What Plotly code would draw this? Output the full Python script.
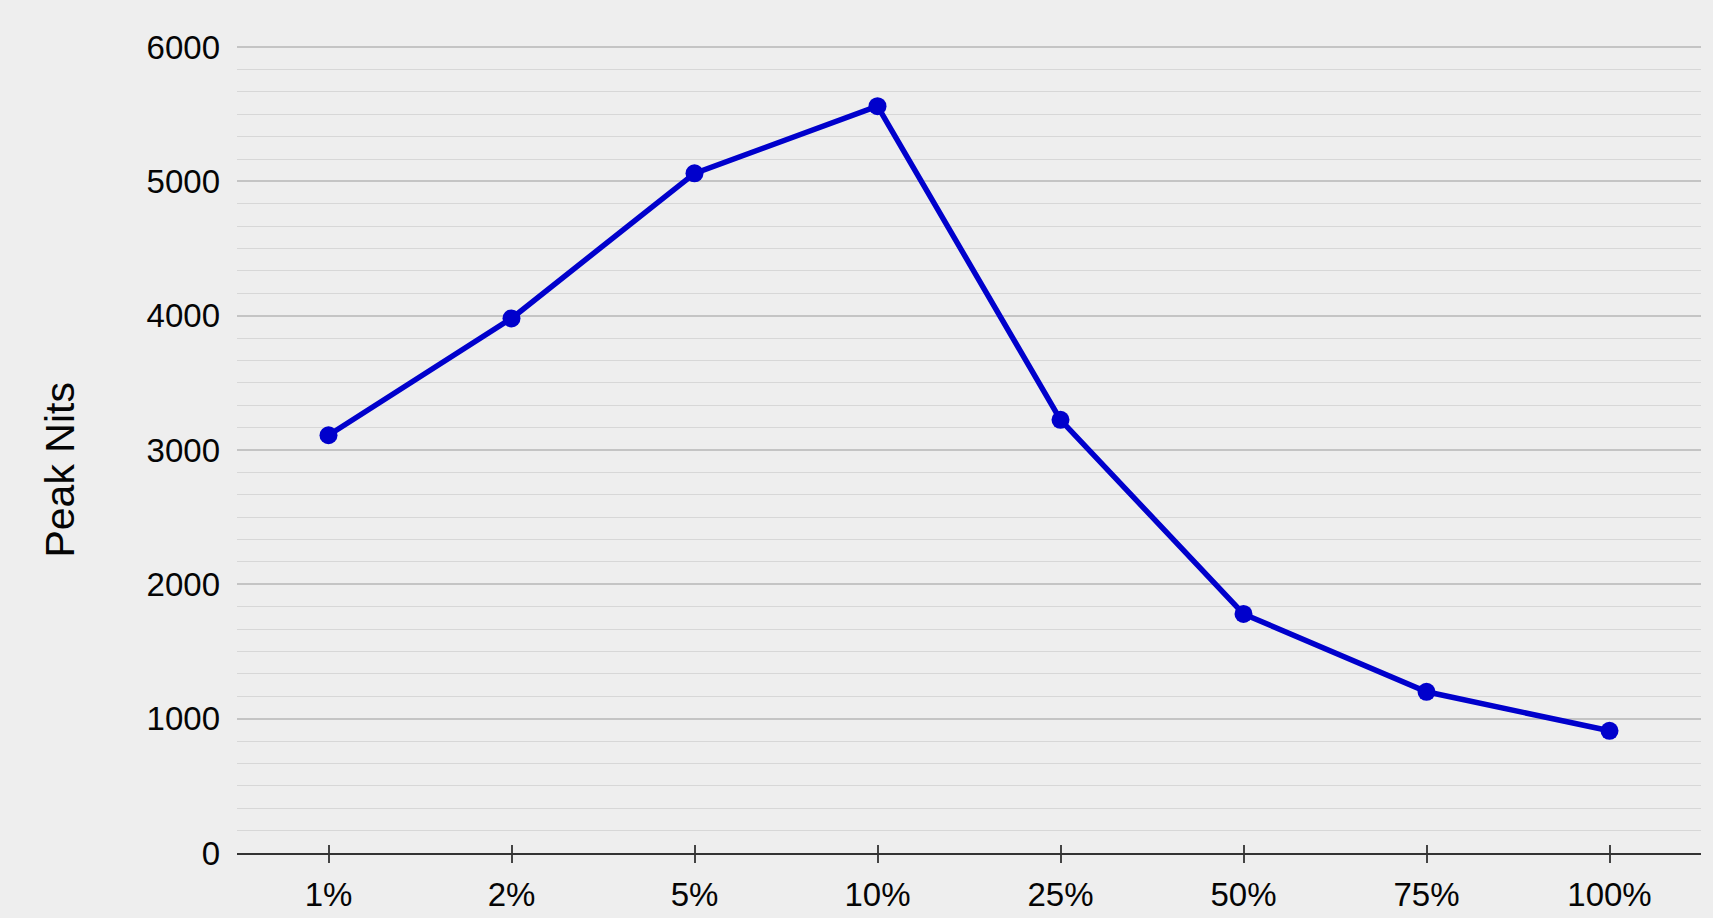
import plotly.graph_objects as go

categories = ["1%", "2%", "5%", "10%", "25%", "50%", "75%", "100%"]
peak_nits = [3110, 3980, 5060, 5560, 3225, 1780, 1200, 910]
y_ticks = [0, 1000, 2000, 3000, 4000, 5000, 6000]

BLUE = "#0000cc"
BG = "#eeeeee"
TXT = "#050505"
FONT = "Liberation Sans, Arial, sans-serif"

fig = go.Figure()
fig.add_trace(go.Scatter(
    x=categories, y=peak_nits, mode="lines+markers",
    line=dict(color=BLUE, width=5.5),
    marker=dict(color=BLUE, size=18),
    showlegend=False, hoverinfo="x+y",
))
# invisible copy to drive the overlay axis (inner half of the crossing ticks)
fig.add_trace(go.Scatter(
    x=categories, y=peak_nits, mode="markers", xaxis="x2",
    marker=dict(size=1, opacity=0), showlegend=False, hoverinfo="skip",
))

fig.update_layout(
    width=1713, height=918,
    paper_bgcolor=BG, plot_bgcolor=BG,
    margin=dict(l=237, r=12, t=46, b=65, autoexpand=False),
    font=dict(family=FONT, size=33, color=TXT),
    xaxis=dict(
        type="category", categoryorder="array", categoryarray=categories,
        range=[-0.5, len(categories) - 0.5],
        showgrid=False, zeroline=False, automargin=False,
        showline=True, linecolor="#333333", linewidth=2,
        ticks="outside", ticklen=8, tickwidth=1.5, tickcolor="#444444",
        ticklabelstandoff=3,
        tickfont=dict(family=FONT, size=33, color=TXT),
    ),
    xaxis2=dict(
        type="category", categoryorder="array", categoryarray=categories,
        overlaying="x", matches="x", anchor="y",
        showgrid=False, zeroline=False, showline=False, automargin=False,
        ticks="inside", ticklen=8, tickwidth=1.5, tickcolor="#444444",
        showticklabels=False, side="bottom",
    ),
    yaxis=dict(
        range=[0, 6008], tickvals=y_ticks,
        showgrid=True, gridcolor="#c4c4c4", gridwidth=1.5,
        zeroline=False, showline=False, ticks="", automargin=False,
        ticklabelstandoff=16,
        tickfont=dict(family=FONT, size=33, color=TXT),
        minor=dict(dtick=1000 / 6, showgrid=True, gridcolor="#d7d7d7", gridwidth=1.3),
    ),
    annotations=[dict(
        text="Peak Nits", textangle=-90, showarrow=False,
        xref="paper", yref="paper", x=-0.121, y=0.475,
        xanchor="center", yanchor="middle",
        font=dict(family=FONT, size=41, color=TXT),
    )],
)

fig.write_html(
    "out.html",
    config={"displayModeBar": False},
    post_script="document.body.style.margin='0';document.body.style.background='#eeeeee';"
                "document.documentElement.style.overflow='hidden';",
)
